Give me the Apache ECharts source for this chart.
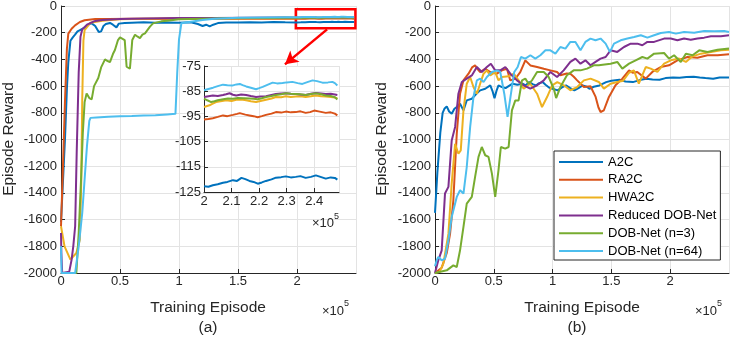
<!DOCTYPE html>
<html>
<head>
<meta charset="utf-8">
<script src="https://cdn.jsdelivr.net/npm/echarts@6/dist/echarts.min.js"></script>
<style>
  html, body { margin: 0; padding: 0; background: #fff; }
  #chart { width: 732px; height: 338px; }
</style>
</head>
<body>
<div id="chart"></div>
<script>
// method names and MATLAB default colours
const names = ["A2C", "RA2C", "HWA2C", "Reduced DOB-Net", "DOB-Net (n=3)", "DOB-Net (n=64)"];
const colors = ["#0072BD", "#D95319", "#EDB120", "#7E2F8E", "#77AC30", "#4DBEEE"];

// x in units of 1e5 episodes
// panel (a): episodes 0 .. 2e5
const a2cA = [[0,-1620],[0.02,-1250],[0.034,-990],[0.05,-620],[0.062,-420],[0.08,-260],[0.1,-235],[0.119,-215],[0.14,-190],[0.161,-180],[0.203,-160],[0.24,-135],[0.26,-130],[0.29,-150],[0.32,-195],[0.34,-190],[0.36,-150],[0.38,-135],[0.415,-127],[0.44,-140],[0.47,-160],[0.49,-132],[0.54,-127],[0.6,-125],[0.7,-122],[0.8,-125],[0.9,-123],[1.0,-125],[1.1,-122],[1.16,-135],[1.2,-150],[1.23,-140],[1.26,-152],[1.29,-140],[1.33,-128],[1.4,-123],[1.5,-124],[1.6,-121],[1.7,-123],[1.8,-120],[1.9,-122]];
const ra2cA = [[0,-1650],[0.015,-1250],[0.034,-706],[0.05,-320],[0.062,-207],[0.09,-170],[0.119,-145],[0.16,-120],[0.2,-107],[0.29,-98],[0.4,-97],[0.6,-96],[0.8,-97],[1.0,-95],[1.2,-96],[1.4,-95],[1.6,-96],[1.8,-95],[1.9,-96]];
const hwa2cA = [[0,-1650],[0.03,-1800],[0.08,-1900],[0.13,-1850],[0.16,-1750],[0.172,-1300],[0.18,-700],[0.19,-260],[0.2,-180],[0.25,-125],[0.35,-110],[0.5,-100],[0.7,-95],[1.0,-92],[1.3,-91],[1.6,-91],[1.9,-91]];
const reducedA = [[0,-1700],[0.003,-1850],[0.01,-2000],[0.07,-1990],[0.09,-1900],[0.104,-1800],[0.12,-1650],[0.133,-1100],[0.15,-500],[0.165,-230],[0.18,-175],[0.22,-140],[0.28,-115],[0.35,-105],[0.5,-98],[0.7,-93],[1.0,-90],[1.3,-89],[1.6,-88],[1.9,-87]];
const dob3A = [[0,-2000],[0.13,-2000],[0.15,-1700],[0.17,-1300],[0.185,-950],[0.2,-720],[0.217,-655],[0.24,-690],[0.26,-700],[0.28,-600],[0.316,-540],[0.34,-460],[0.373,-400],[0.39,-410],[0.415,-420],[0.44,-360],[0.457,-330],[0.483,-255],[0.5,-235],[0.514,-230],[0.54,-255],[0.556,-455],[0.57,-465],[0.584,-470],[0.6,-300],[0.604,-255],[0.627,-215],[0.65,-230],[0.669,-240],[0.69,-215],[0.712,-205],[0.754,-155],[0.78,-130],[0.85,-115],[0.9,-110],[1.0,-100],[1.2,-95],[1.4,-92],[1.6,-90],[1.8,-89],[1.9,-88]];
const dob64A = [[0,-1800],[0.005,-2000],[0.12,-2000],[0.15,-1800],[0.18,-1550],[0.2,-1300],[0.22,-1050],[0.24,-860],[0.25,-838],[0.3,-835],[0.4,-830],[0.5,-825],[0.6,-824],[0.7,-820],[0.8,-818],[0.9,-812],[0.97,-808],[0.985,-500],[1.0,-250],[1.02,-130],[1.1,-118],[1.2,-105],[1.3,-95],[1.5,-88],[1.7,-86],[1.9,-85]];

// panel (a) inset: episodes 2e5 .. 2.49e5
const a2cZoom = [[2.0,-122.7],[2.016,-122.9],[2.032,-122.3],[2.05,-121.9],[2.069,-121.3],[2.085,-121.0],[2.105,-120.3],[2.12,-120.6],[2.136,-119.4],[2.15,-119.9],[2.165,-120.6],[2.18,-121.0],[2.195,-121.7],[2.21,-121.2],[2.225,-120.6],[2.245,-120.0],[2.261,-119.3],[2.28,-119.1],[2.297,-118.8],[2.315,-119.2],[2.333,-119.0],[2.35,-118.7],[2.369,-119.4],[2.388,-119.0],[2.406,-118.4],[2.42,-118.9],[2.442,-119.7],[2.46,-119.2],[2.475,-119.4],[2.484,-120.1]];
const ra2cZoom = [[2.0,-96.2],[2.016,-96.0],[2.032,-95.7],[2.05,-95.2],[2.069,-94.6],[2.085,-94.9],[2.105,-94.4],[2.12,-94.0],[2.13,-93.7],[2.15,-94.3],[2.165,-94.6],[2.18,-94.9],[2.195,-95.3],[2.21,-94.9],[2.225,-94.4],[2.245,-93.9],[2.261,-93.3],[2.28,-93.5],[2.297,-93.1],[2.315,-93.4],[2.333,-93.3],[2.35,-93.0],[2.369,-93.6],[2.385,-93.3],[2.4,-92.7],[2.42,-93.1],[2.442,-93.6],[2.46,-93.4],[2.475,-93.9],[2.484,-94.6]];
const hwa2cZoom = [[2.0,-91.3],[2.02,-90.6],[2.03,-90.0],[2.044,-89.3],[2.06,-89.0],[2.081,-88.6],[2.1,-88.9],[2.117,-88.4],[2.135,-88.3],[2.153,-88.6],[2.17,-89.0],[2.189,-89.3],[2.205,-88.9],[2.225,-88.4],[2.245,-87.9],[2.261,-87.3],[2.28,-87.4],[2.297,-87.0],[2.315,-87.3],[2.333,-87.1],[2.35,-87.0],[2.369,-87.3],[2.388,-87.0],[2.406,-86.7],[2.425,-87.0],[2.442,-87.1],[2.46,-87.3],[2.475,-87.5],[2.484,-87.9]];
const reducedZoom = [[2.0,-87.3],[2.016,-87.0],[2.032,-86.7],[2.05,-86.9],[2.069,-86.5],[2.08,-86.2],[2.093,-85.8],[2.105,-86.4],[2.117,-86.7],[2.135,-86.3],[2.153,-86.5],[2.17,-86.9],[2.189,-87.3],[2.205,-87.1],[2.225,-87.0],[2.245,-86.5],[2.261,-86.1],[2.28,-85.9],[2.297,-85.8],[2.315,-86.0],[2.333,-86.1],[2.35,-86.3],[2.369,-86.5],[2.388,-86.0],[2.406,-85.7],[2.425,-85.9],[2.442,-86.1],[2.46,-86.0],[2.475,-86.3],[2.484,-86.5]];
const dob3Zoom = [[2.0,-87.9],[2.012,-88.6],[2.026,-89.3],[2.038,-89.0],[2.05,-88.6],[2.07,-88.2],[2.087,-87.9],[2.105,-88.0],[2.123,-87.7],[2.145,-87.8],[2.165,-87.9],[2.18,-88.0],[2.195,-88.2],[2.21,-87.8],[2.225,-87.3],[2.245,-86.9],[2.261,-86.5],[2.28,-86.2],[2.297,-85.8],[2.315,-86.0],[2.333,-86.1],[2.35,-86.2],[2.369,-86.5],[2.388,-86.1],[2.406,-85.8],[2.425,-86.2],[2.442,-86.7],[2.46,-86.9],[2.475,-87.4],[2.484,-88.3]];
const dob64Zoom = [[2.0,-84.6],[2.016,-84.1],[2.033,-83.6],[2.05,-83.0],[2.069,-82.4],[2.085,-82.6],[2.105,-82.7],[2.118,-82.3],[2.13,-82.1],[2.14,-82.6],[2.153,-83.1],[2.17,-83.6],[2.189,-84.2],[2.2,-83.8],[2.213,-83.3],[2.23,-82.5],[2.249,-81.6],[2.265,-81.9],[2.285,-81.7],[2.3,-81.5],[2.321,-81.3],[2.34,-81.8],[2.357,-82.1],[2.375,-81.4],[2.394,-80.7],[2.41,-81.0],[2.43,-81.6],[2.45,-81.5],[2.466,-81.3],[2.475,-81.8],[2.484,-82.7]];

// panel (b)
const a2cB = [[0,-1550],[0.02,-1250],[0.045,-950],[0.065,-800],[0.08,-770],[0.1,-752],[0.12,-790],[0.142,-807],[0.165,-770],[0.185,-757],[0.213,-732],[0.242,-782],[0.27,-707],[0.313,-695],[0.35,-660],[0.384,-632],[0.427,-620],[0.47,-595],[0.49,-640],[0.506,-690],[0.525,-630],[0.54,-595],[0.569,-607],[0.6,-615],[0.616,-620],[0.659,-582],[0.7,-590],[0.744,-582],[0.77,-595],[0.801,-570],[0.83,-585],[0.858,-595],[0.88,-580],[0.915,-570],[0.94,-590],[0.972,-612],[1.0,-620],[1.043,-632],[1.08,-610],[1.114,-595],[1.15,-615],[1.185,-632],[1.22,-615],[1.256,-595],[1.29,-605],[1.313,-620],[1.35,-605],[1.398,-595],[1.455,-570],[1.5,-560],[1.569,-552],[1.62,-565],[1.683,-570],[1.74,-555],[1.796,-545],[1.85,-550],[1.91,-552],[1.96,-540],[2.024,-536],[2.08,-538],[2.138,-532],[2.2,-530],[2.251,-536],[2.3,-540],[2.365,-545],[2.42,-535],[2.5,-535]];
const ra2cB = [[0,-2000],[0.057,-1960],[0.1,-1850],[0.128,-1707],[0.156,-1457],[0.185,-957],[0.213,-657],[0.242,-557],[0.285,-507],[0.315,-460],[0.341,-445],[0.36,-470],[0.384,-495],[0.427,-470],[0.47,-495],[0.526,-507],[0.569,-482],[0.612,-470],[0.64,-557],[0.683,-545],[0.725,-495],[0.768,-407],[0.811,-445],[0.868,-457],[0.925,-470],[0.981,-482],[1.038,-495],[1.066,-519],[1.12,-505],[1.151,-507],[1.18,-530],[1.209,-557],[1.266,-607],[1.322,-601],[1.366,-681],[1.39,-760],[1.408,-794],[1.436,-781],[1.479,-681],[1.535,-594],[1.593,-544],[1.65,-482],[1.68,-500],[1.72,-494],[1.792,-544],[1.848,-494],[1.919,-457],[1.99,-444],[2.061,-407],[2.147,-382],[2.232,-387],[2.317,-369],[2.403,-369],[2.5,-362]];
const hwa2cB = [[0,-2000],[0.04,-1990],[0.071,-1930],[0.114,-1707],[0.142,-1330],[0.171,-1032],[0.199,-1107],[0.219,-1082],[0.242,-782],[0.27,-582],[0.299,-532],[0.327,-607],[0.356,-657],[0.384,-582],[0.413,-507],[0.441,-482],[0.47,-520],[0.512,-495],[0.54,-557],[0.569,-532],[0.626,-527],[0.669,-507],[0.711,-557],[0.754,-620],[0.81,-582],[0.868,-657],[0.91,-757],[0.953,-682],[0.996,-594],[1.04,-570],[1.095,-594],[1.151,-631],[1.209,-607],[1.266,-557],[1.323,-544],[1.393,-569],[1.436,-619],[1.493,-582],[1.55,-569],[1.6,-560],[1.65,-500],[1.691,-482],[1.733,-582],[1.792,-457],[1.834,-469],[1.891,-494],[1.948,-432],[2.005,-407],[2.076,-394],[2.133,-419],[2.19,-377],[2.261,-357],[2.346,-344],[2.431,-332],[2.5,-327]];
const reducedB = [[0,-2000],[0.028,-1905],[0.057,-1830],[0.085,-1405],[0.114,-1355],[0.142,-1007],[0.171,-906],[0.199,-657],[0.228,-569],[0.27,-544],[0.313,-520],[0.356,-457],[0.398,-494],[0.441,-457],[0.475,-432],[0.512,-482],[0.555,-482],[0.598,-457],[0.64,-507],[0.697,-557],[0.754,-594],[0.81,-619],[0.868,-594],[0.925,-557],[0.981,-494],[1.038,-532],[1.094,-482],[1.151,-419],[1.194,-394],[1.237,-432],[1.279,-407],[1.322,-444],[1.365,-419],[1.408,-394],[1.451,-382],[1.493,-332],[1.55,-344],[1.607,-307],[1.664,-282],[1.721,-282],[1.763,-294],[1.806,-269],[1.863,-269],[1.948,-244],[2.005,-244],[2.061,-257],[2.118,-244],[2.175,-252],[2.232,-244],[2.289,-237],[2.346,-227],[2.431,-227],[2.5,-219]];
const dob3B = [[0,-2000],[0.1,-1980],[0.156,-1943],[0.185,-1955],[0.213,-1830],[0.242,-1655],[0.27,-1480],[0.313,-1430],[0.341,-1280],[0.37,-1130],[0.398,-1056],[0.427,-1118],[0.455,-1130],[0.484,-1256],[0.512,-1430],[0.54,-1230],[0.56,-1056],[0.597,-1068],[0.626,-1056],[0.654,-782],[0.683,-707],[0.711,-707],[0.74,-557],[0.768,-544],[0.796,-582],[0.825,-557],[0.868,-494],[0.925,-494],[0.967,-532],[1.01,-620],[1.03,-690],[1.066,-607],[1.122,-519],[1.179,-482],[1.237,-482],[1.293,-469],[1.35,-444],[1.393,-444],[1.493,-432],[1.55,-419],[1.593,-469],[1.65,-432],[1.706,-407],[1.763,-382],[1.806,-394],[1.863,-357],[1.948,-352],[1.99,-394],[2.033,-369],[2.09,-419],[2.133,-357],[2.19,-369],[2.247,-332],[2.317,-344],[2.403,-327],[2.5,-319]];
const dob64B = [[0,-1950],[0.014,-1905],[0.028,-1880],[0.057,-1905],[0.085,-1893],[0.114,-1755],[0.142,-1580],[0.185,-1430],[0.213,-1380],[0.242,-1405],[0.27,-1206],[0.299,-906],[0.327,-682],[0.356,-557],[0.384,-544],[0.413,-569],[0.441,-532],[0.484,-494],[0.526,-482],[0.555,-494],[0.589,-657],[0.617,-831],[0.646,-657],[0.674,-494],[0.703,-457],[0.731,-382],[0.768,-394],[0.811,-369],[0.853,-394],[0.896,-369],[0.939,-332],[0.981,-332],[1.024,-357],[1.066,-307],[1.109,-319],[1.151,-269],[1.194,-269],[1.237,-332],[1.279,-269],[1.322,-244],[1.365,-257],[1.408,-244],[1.451,-282],[1.488,-344],[1.522,-282],[1.579,-257],[1.636,-244],[1.693,-232],[1.75,-219],[1.806,-237],[1.863,-219],[1.92,-202],[1.99,-195],[2.048,-207],[2.118,-195],[2.204,-200],[2.289,-187],[2.374,-190],[2.459,-187],[2.5,-195]];

// axis ticks: min, max, step
const xTicksMain = [0, 2.5, 0.5];
const yTicksMain = [-2000, 0, 200];
const xTicksZoom = [2.0, 2.49, 0.1];
const yTicksZoom = [-125, -75, 10];

// red box marking the zoomed region, and the arrow
const zoomBox = [[1.99, -25], [2.495, -167]];
const arrow = [[2.255, -175], [1.898, -437]];

const panelA = [a2cA, ra2cA, hwa2cA, reducedA, dob3A, dob64A];
const panelZoom = [a2cZoom, ra2cZoom, hwa2cZoom, reducedZoom, dob3Zoom, dob64Zoom];
const panelB = [a2cB, ra2cB, hwa2cB, reducedB, dob3B, dob64B];

const font = "'Liberation Sans', Arial, Helvetica, sans-serif";
const ink = "#262626";
const gridColor = "#e3e3e3";

const chart = echarts.init(document.getElementById("chart"), null, { renderer: "canvas" });

const label = (extra) => Object.assign({
  color: ink, fontSize: 13, fontFamily: font, margin: 4,
  formatter: (v) => String(v),
}, extra || {});

// value axis in MATLAB style: ticks inside, light grid, no box
const makeAxis = (gridIndex, ticks, extra) => Object.assign({
  type: "value",
  gridIndex: gridIndex,
  min: ticks[0],
  max: ticks[1],
  interval: ticks[2],
  axisLine: { show: true, onZero: false, lineStyle: { color: ink, width: 1 } },
  axisTick: { show: true, inside: true, length: 4, lineStyle: { color: ink } },
  axisLabel: label(),
  splitLine: { show: true, lineStyle: { color: gridColor, width: 1 } },
}, extra || {});

// inset y axis starts at -125, not a multiple of 10: shift values so ticks land on -125, -115, ...
const zoomBase = yTicksZoom[0];

const series = [];
names.forEach((name, i) => {
  series.push({
    name: name,
    type: "line",
    xAxisIndex: 0,
    yAxisIndex: 0,
    data: panelA[i].concat(panelZoom[i]),
    symbol: "none",
    lineStyle: { color: colors[i], width: 2 },
    itemStyle: { color: colors[i] },
    z: 2,
  });
  series.push({
    name: name,
    type: "line",
    xAxisIndex: 1,
    yAxisIndex: 1,
    data: panelB[i],
    symbol: "none",
    lineStyle: { color: colors[i], width: 2 },
    itemStyle: { color: colors[i] },
    z: 2,
  });
  series.push({
    name: name,
    type: "line",
    xAxisIndex: 2,
    yAxisIndex: 2,
    data: panelZoom[i].map((p) => [p[0], p[1] - zoomBase]),
    symbol: "none",
    lineStyle: { color: colors[i], width: 2 },
    itemStyle: { color: colors[i] },
    z: 5,
  });
});

// red box + arrow ride on the first panel (a) series
series[0].markArea = {
  silent: true,
  itemStyle: { color: "rgba(0,0,0,0)", borderColor: "#ff0000", borderWidth: 2.5 },
  data: [[{ coord: zoomBox[0] }, { coord: zoomBox[1] }]],
};
series[0].markLine = {
  silent: true,
  symbol: ["none", "arrow"],
  symbolSize: [11, 13],
  label: { show: false },
  lineStyle: { color: "#ff0000", width: 2.5, type: "solid" },
  data: [[{ coord: arrow[0] }, { coord: arrow[1] }]],
};

const text = (str, x, y, size, extra, rotation) => ({
  type: "text",
  x: x,
  y: y,
  rotation: rotation || 0,
  style: Object.assign({
    text: str,
    fill: ink,
    fontSize: size,
    fontFamily: font,
    textAlign: "center",
    textVerticalAlign: "middle",
  }, extra || {}),
  z: 10,
});

const option = {
  animation: false,
  backgroundColor: "#fff",
  grid: [
    { left: 61, top: 6, width: 295, height: 267, outerBoundsMode: "none" },
    { left: 435, top: 6, width: 294, height: 267, outerBoundsMode: "none" },
    { left: 204, top: 66, width: 135, height: 126, outerBoundsMode: "none",
      show: true, backgroundColor: "#fff", borderWidth: 0, z: 3 },
  ],
  xAxis: [
    makeAxis(0, xTicksMain, { axisLabel: label({ margin: 2, showMaxLabel: false }) }),
    makeAxis(1, xTicksMain, { axisLabel: label({ margin: 2, showMaxLabel: false }) }),
    makeAxis(2, xTicksZoom, { z: 4, axisLabel: label({ margin: 3, showMaxLabel: false }) }),
  ],
  yAxis: [
    makeAxis(0, yTicksMain),
    makeAxis(1, yTicksMain),
    makeAxis(2, [0, yTicksZoom[1] - zoomBase, yTicksZoom[2]], {
      z: 4,
      axisLabel: label({ margin: 3, formatter: (v) => String(v + zoomBase) }),
    }),
  ],
  legend: {
    data: names,
    orient: "vertical",
    left: 554,
    top: 151,
    icon: "rect",
    itemWidth: 44,
    itemHeight: 2,
    itemGap: 3.8,
    padding: [4, 4, 2, 5],
    backgroundColor: "#fff",
    borderColor: ink,
    borderWidth: 1,
    borderRadius: 0,
    textStyle: { fontSize: 13, lineHeight: 14, color: "#000", fontFamily: font },
  },
  graphic: [
    text("Episode Reward", 9, 139, 15.5, null, Math.PI / 2),
    text("Episode Reward", 382, 139, 15.5, null, Math.PI / 2),
    text("Training Episode", 208, 308, 15.5),
    text("Training Episode", 582, 308, 15.5),
    text("(a)", 208, 328, 15.5),
    text("(b)", 577, 328, 15.5),
    text("\u00d710", 322, 311, 13, { textAlign: "left" }),
    text("5", 344, 304, 9, { textAlign: "left" }),
    text("\u00d710", 695, 311, 13, { textAlign: "left" }),
    text("5", 717, 304, 9, { textAlign: "left" }),
    text("\u00d710", 312, 223, 13, { textAlign: "left" }),
    text("5", 334, 217, 9, { textAlign: "left" }),
  ],
  series: series,
};

chart.setOption(option);
</script>
</body>
</html>
